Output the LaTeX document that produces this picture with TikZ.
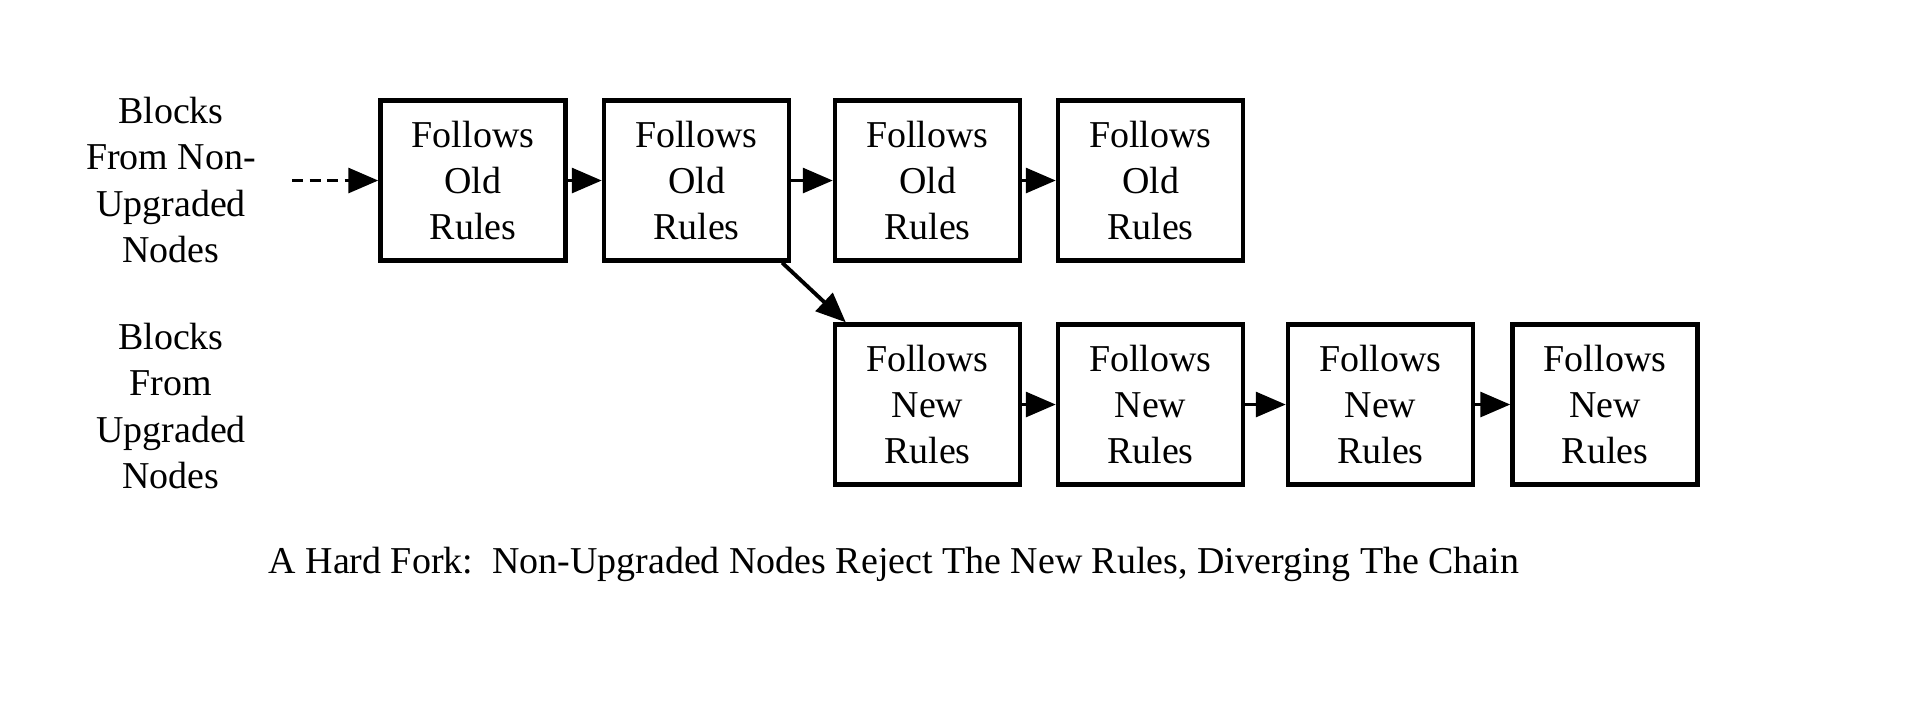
\documentclass[tikz,border=0pt]{standalone}
\usepackage{fontspec}
\setmainfont{Liberation Serif}
\usetikzlibrary{arrows.meta,calc}
\begin{document}
\begin{tikzpicture}[x=0.1mm,y=-0.1mm,
  txt/.style={align=center,font=\fontsize{10.8}{13.1}\selectfont,inner sep=0pt},
  blockbox/.style={txt,draw,line width=1.25pt,minimum width=18.5mm,minimum height=16mm},
  link/.style={line width=1.1pt,-{Triangle[length=8.5pt,width=7pt]}},
]
\useasboundingbox (0,0) rectangle (1910,708);
\node[txt] (lab1) at (171,180) {Blocks\\From Non-\\Upgraded\\Nodes};
\node[txt] (lab2) at (171,406) {Blocks\\From\\Upgraded\\Nodes};
\node[blockbox] (o1) at (473,180.5) {Follows\\Old\\Rules};
\node[blockbox] (o2) at (696.5,180.5) {Follows\\Old\\Rules};
\node[blockbox] (o3) at (927.5,180.5) {Follows\\Old\\Rules};
\node[blockbox] (o4) at (1150.5,180.5) {Follows\\Old\\Rules};
\node[blockbox] (n1) at (927.5,404.5) {Follows\\New\\Rules};
\node[blockbox] (n2) at (1150.5,404.5) {Follows\\New\\Rules};
\node[blockbox] (n3) at (1380.5,404.5) {Follows\\New\\Rules};
\node[blockbox] (n4) at (1605,404.5) {Follows\\New\\Rules};
\node[txt] (cap) at (894,564) {A Hard Fork:\ \ Non-Upgraded Nodes Reject The New Rules, Diverging The Chain};
\coordinate (start) at (292,180.5);
\draw[link,dash pattern=on 3.2pt off 1.8pt] (start) -- (o1.west);
\draw[link] (o1) -- (o2);
\draw[link] (o2) -- (o3);
\draw[link] (o3) -- (o4);
\draw[link] (n1) -- (n2);
\draw[link] (n2) -- (n3);
\draw[link] (n3) -- (n4);
\draw[link] ($(o2.south east)+(-9,0)$) -- ($(n1.north west)+(13,0)$);
\end{tikzpicture}
\end{document}
